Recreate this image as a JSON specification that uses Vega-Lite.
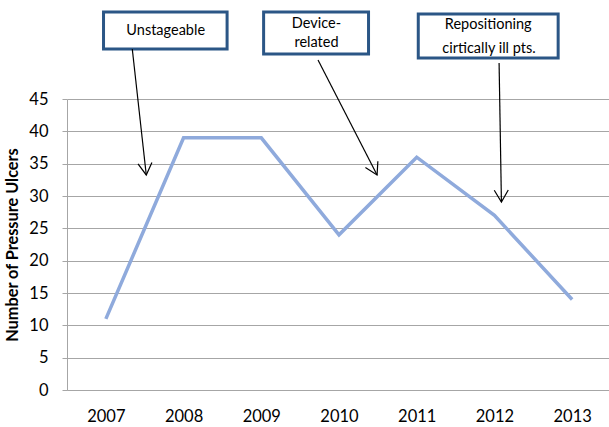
{
  "$schema": "https://vega.github.io/schema/vega-lite/v6.json",
  "width": 544,
  "height": 291,
  "autosize": {"type": "none"},
  "padding": {"left": 67, "top": 99, "right": 0, "bottom": 37},
  "background": "white",
  "config": {"view": {"stroke": null}, "font": "Lato"},
  "resolve": {"axis": {"x": "independent", "y": "independent"}},
  "datasets": {
    "series": [
      {"year": 2007, "ulcers": 11},
      {"year": 2008, "ulcers": 39},
      {"year": 2009, "ulcers": 39},
      {"year": 2010, "ulcers": 24},
      {"year": 2011, "ulcers": 36},
      {"year": 2012, "ulcers": 27},
      {"year": 2013, "ulcers": 14}
    ],
    "boxes": [
      {"id": 1, "x1": 2006.97, "x2": 2008.56, "y1": 52.73, "y2": 58.45},
      {"id": 2, "x1": 2009.03, "x2": 2010.38, "y1": 51.96, "y2": 58.45},
      {"id": 3, "x1": 2011.02, "x2": 2012.82, "y1": 51.34, "y2": 58.14}
    ],
    "labels": [
      {"box": 1, "xc": 2007.77, "yc": 55.59, "label": "Unstageable"},
      {"box": 2, "xc": 2009.71, "yc": 56.58, "label": "Device-"},
      {"box": 2, "xc": 2009.71, "yc": 53.66, "label": "related"},
      {"box": 3, "xc": 2011.92, "yc": 56.44, "label": "Repositioning"},
      {"box": 3, "xc": 2011.93, "yc": 52.73, "label": "cirtically ill pts."}
    ],
    "arrows": [
      {"id": 1, "xs": 2007.34, "ys": 52.73, "xe": 2007.52, "ye": 33.25},
      {"id": 2, "xs": 2009.73, "ys": 51.03, "xe": 2010.49, "ye": 33.25},
      {"id": 3, "xs": 2012.06, "ys": 50.56, "xe": 2012.09, "ye": 29.07}
    ]
  },
  "layer": [
    {
      "data": {"name": "series"},
      "mark": {"type": "line", "color": "#8FAADC", "strokeWidth": 3.5},
      "encoding": {
        "x": {
          "field": "year", "type": "quantitative",
          "scale": {"domain": [2006.5, 2013.5], "nice": false, "zero": false},
          "axis": {
            "title": null, "values": [2007, 2008, 2009, 2010, 2011, 2012, 2013], "format": "d",
            "grid": false, "ticks": false, "domain": true, "domainColor": "#A6A6A6", "domainWidth": 1,
            "labelFont": "Lato", "labelFontSize": 16.5, "labelColor": "#000000", "labelPadding": 18,
            "labelFlush": false, "labelOverlap": false
          }
        },
        "y": {
          "field": "ulcers", "type": "quantitative",
          "scale": {"domain": [0, 45], "nice": false},
          "axis": {
            "title": "Number of Pressure Ulcers", "values": [0, 5, 10, 15, 20, 25, 30, 35, 40, 45],
            "grid": true, "gridColor": "#A6A6A6", "gridWidth": 1,
            "domain": true, "domainColor": "#A6A6A6", "domainWidth": 1,
            "ticks": true, "tickSize": 5, "tickColor": "#A6A6A6",
            "labelFont": "Lato", "labelFontSize": 16.5, "labelColor": "#000000", "labelPadding": 14,
            "titleFont": "Lato", "titleFontSize": 16.3, "titleFontWeight": "bold", "titleColor": "#000000",
            "titlePadding": 8
          }
        }
      }
    },
    {
      "data": {"name": "boxes"},
      "mark": {"type": "rect", "fill": "white", "stroke": "#2B5686", "strokeWidth": 3},
      "encoding": {
        "x": {"field": "x1", "type": "quantitative", "axis": null},
        "x2": {"field": "x2"},
        "y": {"field": "y1", "type": "quantitative", "axis": null},
        "y2": {"field": "y2"}
      }
    },
    {
      "data": {"name": "labels"},
      "mark": {"type": "text", "font": "Lato", "fontSize": 14.5, "color": "#000000", "align": "center", "baseline": "middle"},
      "encoding": {
        "x": {"field": "xc", "type": "quantitative", "axis": null},
        "y": {"field": "yc", "type": "quantitative", "axis": null},
        "text": {"field": "label"}
      }
    },
    {
      "data": {"name": "arrows"},
      "mark": {"type": "rule", "color": "#000000", "strokeWidth": 1.2},
      "encoding": {
        "x": {"field": "xs", "type": "quantitative", "axis": null},
        "y": {"field": "ys", "type": "quantitative", "axis": null},
        "x2": {"field": "xe"},
        "y2": {"field": "ye"}
      }
    },
    {
      "data": {"name": "arrows"},
      "transform": [{"filter": "datum.id == 1"}],
      "mark": {"type": "point", "shape": "M-1,-1.7L0,0L1,-1.7", "size": 196, "filled": false, "stroke": "#000000", "strokeWidth": 1.2, "opacity": 1, "angle": -6.3},
      "encoding": {
        "x": {"field": "xe", "type": "quantitative", "axis": null},
        "y": {"field": "ye", "type": "quantitative", "axis": null}
      }
    },
    {
      "data": {"name": "arrows"},
      "transform": [{"filter": "datum.id == 2"}],
      "mark": {"type": "point", "shape": "M-1,-1.7L0,0L1,-1.7", "size": 196, "filled": false, "stroke": "#000000", "strokeWidth": 1.2, "opacity": 1, "angle": -27.2},
      "encoding": {
        "x": {"field": "xe", "type": "quantitative", "axis": null},
        "y": {"field": "ye", "type": "quantitative", "axis": null}
      }
    },
    {
      "data": {"name": "arrows"},
      "transform": [{"filter": "datum.id == 3"}],
      "mark": {"type": "point", "shape": "M-1,-1.7L0,0L1,-1.7", "size": 196, "filled": false, "stroke": "#000000", "strokeWidth": 1.2, "opacity": 1, "angle": -0.8},
      "encoding": {
        "x": {"field": "xe", "type": "quantitative", "axis": null},
        "y": {"field": "ye", "type": "quantitative", "axis": null}
      }
    }
  ]
}
